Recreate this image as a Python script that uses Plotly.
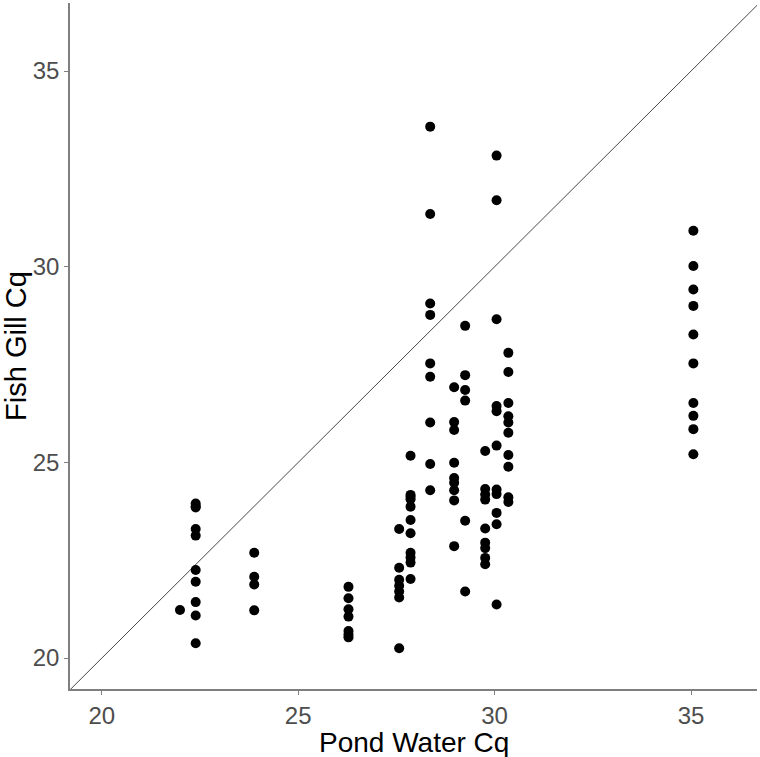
import plotly.graph_objects as go

# Data (Pond Water Cq, Fish Gill Cq)
col_x = [21.99, 22.39, 23.88, 26.28, 27.57, 27.86, 28.36, 28.97, 29.25, 29.76, 30.05, 30.35, 35.06]
col_y = [
    [21.23],
    [23.95, 23.88, 23.85, 23.30, 23.13, 22.25, 21.95, 21.43, 21.09, 20.38],
    [22.69, 22.08, 21.88, 21.22],
    [21.82, 21.53, 21.25, 21.06, 20.69, 20.60, 20.53],
    [23.30, 22.31, 22.00, 21.85, 21.70, 21.55, 20.25],
    [25.17, 24.17, 24.12, 24.06, 23.87, 23.53, 23.19, 22.69, 22.57, 22.44, 22.02],
    [33.58, 31.35, 29.06, 28.77, 27.53, 27.19, 26.02, 24.96, 24.29],
    [26.92, 26.03, 25.83, 24.99, 24.60, 24.48, 24.29, 24.03, 22.86],
    [28.49, 27.23, 26.85, 26.58, 23.51, 21.70],
    [25.29, 24.32, 24.18, 24.05, 23.31, 22.95, 22.81, 22.56, 22.40],
    [32.84, 31.70, 28.66, 26.44, 26.31, 25.43, 24.31, 24.19, 23.71, 23.42, 21.37],
    [27.80, 27.31, 26.52, 26.18, 26.02, 25.76, 25.19, 24.89, 24.11, 23.99],
    [30.92, 30.02, 29.42, 29.00, 28.27, 27.53, 26.52, 26.19, 25.85, 25.21],
]
pond_x = [x for x, ys in zip(col_x, col_y) for _ in ys]
gill_y = [y for ys in col_y for y in ys]

# 1:1 reference line (y = x), clipped by the axes
ref_line = [15, 40]

x_ticks = [20, 25, 30, 35]
y_ticks = [20, 25, 30, 35]
x_range = [19.19, 36.68]
y_range = [19.21, 36.74]

FONT = "Liberation Sans, Arial, sans-serif"

fig = go.Figure()
fig.add_trace(go.Scatter(
    x=ref_line, y=ref_line, mode="lines",
    line=dict(color="#333333", width=0.9), hoverinfo="skip", showlegend=False,
))
fig.add_trace(go.Scatter(
    x=pond_x, y=gill_y, mode="markers",
    marker=dict(color="black", size=10, line=dict(width=0)), showlegend=False,
))

axis_common = dict(
    showgrid=False, zeroline=False, showline=True, linecolor="#7f7f7f", linewidth=1.5,
    ticks="outside", ticklen=4, tickwidth=1.2, tickcolor="#7f7f7f",
    tickfont=dict(family=FONT, size=24, color="#4d4d4d"),
    mirror=False, automargin=False,
)
fig.update_layout(
    width=760, height=757,
    margin=dict(l=70, r=3, t=3, b=68),
    plot_bgcolor="white", paper_bgcolor="white",
    xaxis=dict(range=x_range, tickvals=x_ticks, **axis_common),
    yaxis=dict(range=y_range, tickvals=y_ticks, **axis_common,
               title=dict(text="Fish Gill Cq", standoff=4,
                          font=dict(family=FONT, size=29, color="black"))),
)
fig.add_annotation(
    text="Pond Water Cq", xref="paper", yref="paper", x=0.5, y=0,
    xanchor="center", yanchor="top", yshift=-36, showarrow=False,
    font=dict(family=FONT, size=28, color="black"),
)
fig.write_html("out.html")
